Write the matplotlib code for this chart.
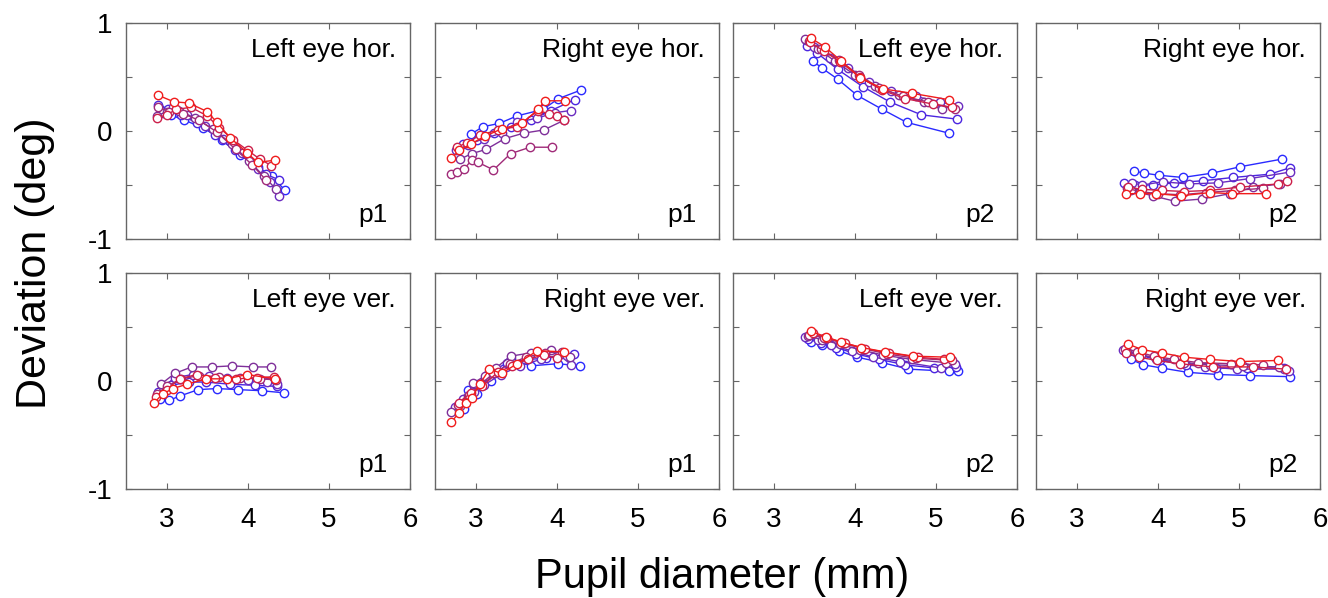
import matplotlib.pyplot as plt
from matplotlib.ticker import FixedLocator

plt.rcParams['font.family'] = ['Liberation Sans', 'DejaVu Sans']

# one colour per recording session, blue (first) to red (last)
series_colors = ['#2a2aff', '#4b25e0', '#6a2cc0', '#7f2f9a', '#a02a78', '#cc1f4a', '#f01c1c']

# ---- p1, left eye horizontal
lh_p1_x = [[2.92, 3.05, 3.22, 3.45, 3.68, 3.90, 4.12, 4.30, 4.46],
           [2.90, 3.02, 3.18, 3.38, 3.60, 3.84, 4.05, 4.22, 4.38],
           [2.95, 3.08, 3.25, 3.47, 3.70, 3.93, 4.12, 4.28, 4.38],
           [2.88, 3.00, 3.15, 3.35, 3.57, 3.80, 4.02, 4.20, 4.35],
           [2.90, 3.03, 3.20, 3.40, 3.62, 3.85, 4.05, 4.22],
           [2.88, 3.00, 3.12, 3.30, 3.50, 3.65, 3.82, 4.00, 4.15, 4.29],
           [2.90, 3.09, 3.27, 3.50, 3.62, 3.78, 3.99, 4.12, 4.34]]
lh_p1_y = [[0.20, 0.15, 0.10, 0.03, -0.08, -0.22, -0.33, -0.42, -0.55],
           [0.24, 0.20, 0.15, 0.07, -0.04, -0.18, -0.30, -0.40, -0.45],
           [0.17, 0.22, 0.15, 0.05, -0.07, -0.20, -0.35, -0.47, -0.60],
           [0.14, 0.18, 0.19, 0.12, 0.02, -0.12, -0.28, -0.42, -0.54],
           [0.22, 0.18, 0.16, 0.10, -0.01, -0.17, -0.31, -0.45],
           [0.12, 0.15, 0.20, 0.22, 0.14, 0.03, -0.08, -0.18, -0.26, -0.32],
           [0.33, 0.27, 0.26, 0.18, 0.08, -0.06, -0.20, -0.29, -0.27]]

# ---- p1, right eye horizontal
rh_p1_x = [[2.94, 3.09, 3.29, 3.51, 3.83, 4.02, 4.30],
           [2.85, 3.02, 3.23, 3.43, 3.68, 3.93, 4.22],
           [2.76, 2.90, 3.10, 3.32, 3.51, 3.76, 3.98, 4.17],
           [2.81, 2.95, 3.13, 3.36, 3.59, 3.84, 4.09],
           [2.70, 2.77, 2.86, 2.95, 3.03, 3.22, 3.43, 3.67, 3.94],
           [2.77, 2.89, 3.05, 3.27, 3.51, 3.77, 3.90, 4.00, 4.09],
           [2.70, 2.80, 2.94, 3.11, 3.32, 3.57, 3.77, 3.85, 4.10]]
rh_p1_y = [[-0.03, 0.04, 0.07, 0.14, 0.20, 0.30, 0.38],
           [-0.12, -0.08, -0.02, 0.04, 0.10, 0.19, 0.29],
           [-0.18, -0.13, -0.07, -0.02, 0.08, 0.12, 0.17, 0.19],
           [-0.26, -0.21, -0.17, -0.07, -0.02, 0.01, 0.10],
           [-0.40, -0.38, -0.35, -0.27, -0.29, -0.36, -0.21, -0.15, -0.15],
           [-0.15, -0.11, -0.04, 0.01, 0.04, 0.19, 0.16, 0.14, 0.10],
           [-0.25, -0.18, -0.12, -0.05, 0.02, 0.07, 0.20, 0.28, 0.28]]

# ---- p2, left eye horizontal
lh_p2_x = [[3.48, 3.60, 3.79, 4.03, 4.34, 4.64, 5.16],
           [3.41, 3.54, 3.79, 4.10, 4.43, 4.82, 5.26],
           [3.40, 3.50, 3.70, 3.92, 4.18, 4.45, 4.75, 5.05, 5.27],
           [3.39, 3.55, 3.75, 4.00, 4.25, 4.55, 4.85, 5.07],
           [3.43, 3.58, 3.80, 4.05, 4.30, 4.60, 4.90, 5.23],
           [3.45, 3.62, 3.82, 4.06, 4.33, 4.62, 4.96, 5.20],
           [3.46, 3.63, 3.83, 4.07, 4.35, 4.70, 5.16]]
lh_p2_y = [[0.65, 0.58, 0.48, 0.33, 0.20, 0.08, -0.02],
           [0.79, 0.72, 0.57, 0.41, 0.27, 0.15, 0.11],
           [0.84, 0.78, 0.68, 0.58, 0.45, 0.37, 0.32, 0.27, 0.23],
           [0.85, 0.76, 0.65, 0.52, 0.42, 0.33, 0.27, 0.20],
           [0.83, 0.76, 0.66, 0.52, 0.40, 0.32, 0.27, 0.20],
           [0.82, 0.74, 0.64, 0.50, 0.38, 0.30, 0.25, 0.22],
           [0.86, 0.78, 0.65, 0.49, 0.39, 0.35, 0.29]]

# ---- p2, right eye horizontal
rh_p2_x = [[3.71, 3.83, 4.02, 4.31, 4.67, 5.02, 5.53],
           [3.59, 3.72, 3.94, 4.20, 4.56, 4.93, 5.38, 5.63],
           [3.68, 3.81, 4.06, 4.38, 4.74, 5.14, 5.63],
           [3.67, 3.94, 4.21, 4.54, 4.89, 5.18, 5.51],
           [3.62, 3.78, 4.00, 4.28, 4.60, 4.95, 5.30],
           [3.63, 3.81, 4.05, 4.33, 4.64, 5.01, 5.48, 5.59],
           [3.61, 3.78, 3.98, 4.29, 4.64, 4.91, 5.34]]
rh_p2_y = [[-0.37, -0.39, -0.41, -0.43, -0.39, -0.33, -0.26],
           [-0.48, -0.50, -0.50, -0.48, -0.46, -0.43, -0.40, -0.34],
           [-0.48, -0.50, -0.47, -0.49, -0.48, -0.44, -0.38],
           [-0.55, -0.60, -0.65, -0.63, -0.58, -0.52, -0.49],
           [-0.53, -0.56, -0.58, -0.59, -0.57, -0.55, -0.53],
           [-0.52, -0.54, -0.55, -0.56, -0.55, -0.52, -0.49, -0.46],
           [-0.58, -0.58, -0.58, -0.60, -0.57, -0.58, -0.58]]

# ---- p1, left eye vertical
lv_p1_x = [[2.92, 3.03, 3.16, 3.39, 3.62, 3.88, 4.17, 4.45],
           [2.90, 3.06, 3.27, 3.49, 3.78, 4.09, 4.36],
           [2.95, 3.10, 3.32, 3.52, 3.75, 4.00, 4.24, 4.36],
           [2.93, 3.10, 3.31, 3.56, 3.80, 4.07, 4.29],
           [2.88, 3.00, 3.18, 3.40, 3.65, 3.90, 4.15, 4.35],
           [2.87, 3.00, 3.16, 3.37, 3.60, 3.86, 4.11, 4.32],
           [2.85, 2.95, 3.08, 3.25, 3.49, 3.74, 3.99, 4.34]]
lv_p1_y = [[-0.17, -0.18, -0.14, -0.08, -0.07, -0.08, -0.09, -0.11],
           [-0.10, -0.04, -0.01, -0.01, -0.03, -0.04, -0.05],
           [-0.06, 0.03, 0.06, 0.05, 0.03, 0.01, -0.01, -0.03],
           [-0.03, 0.07, 0.13, 0.13, 0.14, 0.13, 0.13],
           [-0.12, -0.05, 0.02, 0.05, 0.04, 0.03, 0.02, 0.01],
           [-0.15, -0.08, 0.02, 0.06, 0.03, 0.02, 0.03, 0.04],
           [-0.20, -0.12, -0.07, -0.03, 0.02, 0.02, 0.06, 0.02]]

# ---- p1, right eye vertical
rv_p1_x = [[2.86, 2.90, 3.02, 3.19, 3.43, 3.68, 4.01, 4.29],
           [2.86, 2.98, 3.14, 3.39, 3.64, 3.87, 4.21],
           [2.75, 2.85, 2.98, 3.10, 3.31, 3.55, 3.80, 4.03, 4.18],
           [2.70, 2.81, 2.90, 2.97, 3.12, 3.25, 3.43, 3.68, 3.93, 4.16],
           [2.78, 2.92, 3.06, 3.22, 3.42, 3.62, 3.85, 4.06],
           [2.79, 2.94, 3.08, 3.27, 3.45, 3.64, 3.84, 4.00],
           [2.70, 2.79, 2.88, 2.95, 3.05, 3.17, 3.32, 3.51, 3.76, 4.09]]
rv_p1_y = [[-0.26, -0.08, -0.12, 0.00, 0.20, 0.14, 0.16, 0.14],
           [-0.17, -0.05, 0.06, 0.17, 0.20, 0.21, 0.25],
           [-0.24, -0.17, -0.10, -0.04, 0.06, 0.14, 0.20, 0.24, 0.15],
           [-0.29, -0.23, -0.14, -0.02, 0.05, 0.12, 0.23, 0.26, 0.29, 0.22],
           [-0.22, -0.13, -0.03, 0.07, 0.16, 0.22, 0.26, 0.27],
           [-0.20, -0.11, -0.05, 0.08, 0.14, 0.20, 0.24, 0.21],
           [-0.38, -0.30, -0.20, -0.16, -0.03, 0.11, 0.07, 0.16, 0.28, 0.27]]

# ---- p2, left eye vertical
lv_p2_x = [[3.46, 3.60, 3.80, 4.03, 4.34, 4.66, 5.16, 5.27],
           [3.42, 3.58, 3.77, 4.02, 4.30, 4.62, 4.98, 5.25],
           [3.39, 3.55, 3.71, 3.96, 4.23, 4.56, 5.06, 5.23],
           [3.42, 3.60, 3.82, 4.06, 4.35, 4.70, 5.12],
           [3.44, 3.62, 3.85, 4.10, 4.40, 4.75, 5.20],
           [3.48, 3.66, 3.88, 4.13, 4.42, 4.78, 5.10],
           [3.46, 3.64, 3.83, 4.08, 4.37, 4.72, 5.17]]
lv_p2_y = [[0.36, 0.33, 0.28, 0.22, 0.17, 0.11, 0.09, 0.09],
           [0.39, 0.35, 0.31, 0.25, 0.20, 0.15, 0.12, 0.13],
           [0.41, 0.38, 0.33, 0.28, 0.22, 0.18, 0.12, 0.16],
           [0.42, 0.38, 0.34, 0.29, 0.24, 0.20, 0.17],
           [0.43, 0.40, 0.35, 0.30, 0.25, 0.21, 0.19],
           [0.44, 0.40, 0.35, 0.30, 0.26, 0.22, 0.20],
           [0.46, 0.41, 0.36, 0.31, 0.27, 0.23, 0.22]]

# ---- p2, right eye vertical
rv_p2_x = [[3.67, 3.82, 4.05, 4.37, 4.74, 5.14, 5.63],
           [3.60, 3.77, 4.03, 4.35, 4.72, 5.10, 5.55],
           [3.57, 3.77, 3.98, 4.29, 4.58, 4.98, 5.55, 5.62],
           [3.62, 3.80, 4.02, 4.32, 4.65, 5.05, 5.50],
           [3.60, 3.75, 3.95, 4.20, 4.50, 4.90, 5.30],
           [3.61, 3.77, 3.99, 4.27, 4.68, 5.17, 5.58],
           [3.64, 3.81, 4.05, 4.33, 4.64, 5.02, 5.48]]
rv_p2_y = [[0.20, 0.15, 0.12, 0.08, 0.06, 0.05, 0.04],
           [0.28, 0.24, 0.19, 0.15, 0.12, 0.12, 0.12],
           [0.29, 0.25, 0.20, 0.17, 0.13, 0.11, 0.11, 0.09],
           [0.27, 0.24, 0.21, 0.17, 0.15, 0.14, 0.13],
           [0.30, 0.27, 0.23, 0.20, 0.17, 0.16, 0.15],
           [0.26, 0.22, 0.19, 0.16, 0.13, 0.13, 0.11],
           [0.34, 0.29, 0.26, 0.22, 0.20, 0.18, 0.19]]

panels = [
    [(lh_p1_x, lh_p1_y, 'Left eye hor.', 'p1'),
     (rh_p1_x, rh_p1_y, 'Right eye hor.', 'p1'),
     (lh_p2_x, lh_p2_y, 'Left eye hor.', 'p2'),
     (rh_p2_x, rh_p2_y, 'Right eye hor.', 'p2')],
    [(lv_p1_x, lv_p1_y, 'Left eye ver.', 'p1'),
     (rv_p1_x, rv_p1_y, 'Right eye ver.', 'p1'),
     (lv_p2_x, lv_p2_y, 'Left eye ver.', 'p2'),
     (rv_p2_x, rv_p2_y, 'Right eye ver.', 'p2')],
]

fig = plt.figure(figsize=(13.28, 5.98), dpi=100)

lefts = [0.0949, 0.3276, 0.5520, 0.7801]
bottoms = [0.6003, 0.1823]
w, h = 0.2139, 0.3612

for r in range(2):
    for c in range(4):
        xs, ys, title, subj = panels[r][c]
        ax = fig.add_axes([lefts[c], bottoms[r], w, h])
        for i in range(len(xs)):
            ax.plot(xs[i], ys[i], '-o', color=series_colors[i], lw=1,
                    ms=6, mfc='white', mec=series_colors[i], mew=1)
        ax.set_xlim(2.5, 6)
        ax.set_ylim(-1, 1)
        ax.xaxis.set_major_locator(FixedLocator([3, 4, 5, 6]))
        ax.yaxis.set_major_locator(FixedLocator([-1, -0.5, 0, 0.5, 1]))
        ax.tick_params(direction='in', length=4, width=0.8, color='#666666',
                       top=True, right=True, labelsize=20)
        ax.tick_params(axis='x', pad=13)
        ax.tick_params(axis='y', pad=10)
        for s in ax.spines.values():
            s.set_color('#666666')
            s.set_linewidth(1)
        if r == 1:
            ax.set_xticklabels(['3', '4', '5', '6'])
        else:
            ax.set_xticklabels([])
        if c == 0:
            ax.set_yticklabels(['-1', '', '0', '', '1'])
        else:
            ax.set_yticklabels([])
        ax.text(0.95, 0.93, title, transform=ax.transAxes, ha='right', va='top',
                fontsize=19)
        ax.text(0.92, 0.08, subj, transform=ax.transAxes, ha='right', va='baseline',
                fontsize=19)

fig.text(0.5437, 0.035, 'Pupil diameter (mm)', ha='center', va='center', fontsize=30)
fig.text(0.026, 0.56, 'Deviation (deg)', ha='center', va='center', rotation=90,
         fontsize=31)

fig.savefig('out.png', dpi=100)
